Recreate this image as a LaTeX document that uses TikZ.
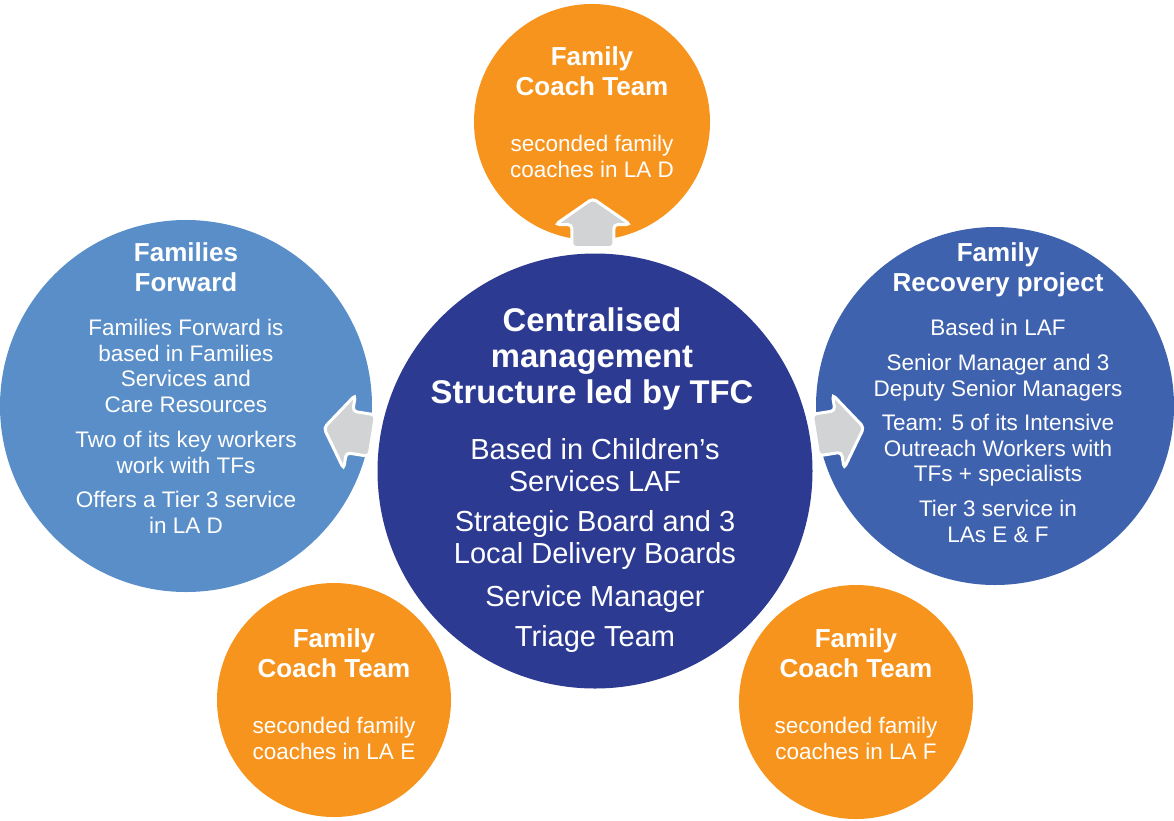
\documentclass[tikz,border=0pt]{standalone}
\usepackage{fontspec}
\setmainfont{Liberation Sans}
\usetikzlibrary{calc}
\definecolor{orangeC}{HTML}{F7941D}
\definecolor{navyC}{HTML}{2D3A92}
\definecolor{lightblueC}{HTML}{5A8EC8}
\definecolor{midblueC}{HTML}{3F62AE}
\definecolor{arrowgray}{HTML}{D1D3D4}
\tikzset{
  bubble/.style={circle, inner sep=0pt, outer sep=0pt},
  txt/.style={text=white, align=center, anchor=north, inner sep=0pt},
  ttl/.style={txt, font=\bfseries\fontsize{26}{30}\selectfont},
  bodytxt/.style={txt, font=\fontsize{22.5}{25.6}\selectfont},
  bigttl/.style={txt, font=\bfseries\fontsize{32.8}{36}\selectfont},
  bigbody/.style={txt, font=\fontsize{29}{32}\selectfont},
  blockarrow/.style={fill=arrowgray, draw=white, line width=3pt, rounded corners=4pt}
}
\newcommand{\blockarrowpath}{%
  (-25,-21) -- (-2,-21) -- (-2,-37.5) -- (24,0) -- (-2,37.5) -- (-2,21) -- (-25,21) -- cycle}
\begin{document}
\begin{tikzpicture}[x=1pt, y=-1pt]
\useasboundingbox (0,0) rectangle (1174,820);
\clip (0,0) rectangle (1174,820);
% circles
\node[bubble, fill=orangeC, minimum size=236pt] (top) at (592,122) {};
\node[bubble, fill=lightblueC, minimum size=372pt] (ff) at (186,406) {};
\node[bubble, fill=midblueC, minimum size=358pt] (frp) at (995,406) {};
\node[bubble, fill=orangeC, minimum size=234pt] (bl) at (334,700) {};
\node[bubble, fill=orangeC, minimum size=234pt] (br) at (856,702) {};
\node[bubble, fill=navyC, minimum size=435pt] (cen) at (595,471) {};
% arrows
\begin{scope}[shift={($(cen)!0.712!(top)$)}, rotate=90]
  \draw[blockarrow] \blockarrowpath;
\end{scope}
\begin{scope}[shift={($(cen)!0.605!(ff)$)}, rotate=171]
  \draw[blockarrow] \blockarrowpath;
\end{scope}
\begin{scope}[shift={($(cen)!0.613!(frp)$)}, rotate=9]
  \draw[blockarrow] \blockarrowpath;
\end{scope}
% texts: top
\node[ttl] (topT) at (592,46) {Family\\Coach Team};
\node[bodytxt] (topB) at (592,135) {seconded family\\coaches in LA D};
% left
\node[ttl] (ffT) at (186,242) {Families\\Forward};
\node[bodytxt] (ffB1) at (186,319) {Families Forward is\\based in Families\\Services and\\Care Resources};
\node[bodytxt] (ffB2) at (186,431) {Two of its key workers\\work with TFs};
\node[bodytxt] (ffB3) at (186,491) {Offers a Tier 3 service\\in LA D};
% centre
\node[bigttl] (cenT) at (592,308) {Centralised\\management\\Structure led by TFC};
\node[bigbody] (cenB1) at (595,438) {Based in Children’s\\Services LAF};
\node[bigbody] (cenB2) at (595,510) {Strategic Board and 3\\Local Delivery Boards};
\node[bigbody] (cenB3) at (595,585) {Service Manager};
\node[bigbody] (cenB4) at (595,625) {Triage Team};
% right
\node[ttl] (frpT) at (998,242) {Family\\Recovery project};
\node[bodytxt] (frpB1) at (998,319) {Based in LAF};
\node[bodytxt] (frpB2) at (998,354) {Senior Manager and 3\\Deputy Senior Managers};
\node[bodytxt] (frpB3) at (998,414) {Team: 5 of its Intensive\\Outreach Workers with\\TFs + specialists};
\node[bodytxt] (frpB4) at (998,500) {Tier 3 service in\\LAs E \& F};
% bottom left
\node[ttl] (blT) at (334,628) {Family\\Coach Team};
\node[bodytxt] (blB) at (334,717) {seconded family\\coaches in LA E};
% bottom right
\node[ttl] (brT) at (856,628) {Family\\Coach Team};
\node[bodytxt] (brB) at (856,717) {seconded family\\coaches in LA F};
\end{tikzpicture}
\end{document}
